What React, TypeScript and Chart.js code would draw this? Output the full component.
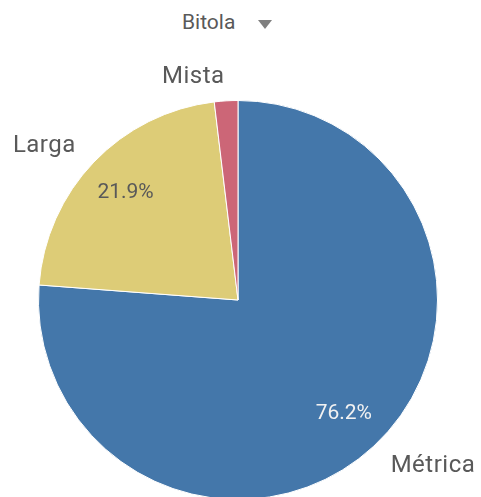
import React, { useEffect, useRef } from "react";
import { Chart, registerables } from "chart.js";

Chart.register(...registerables);

const categories = ["Métrica", "Larga", "Mista"];
const values = [76.2, 21.9, 1.9];
const percentLabels = ["76.2%", "21.9%", ""];
const colors = ["#4477aa", "#ddcc77", "#cc6677"];
const percentColors = ["#f2f2f2", "#595959", "#595959"];
const titleText = "Bitola";

const FONT = "Roboto, 'Open Sans', sans-serif";

const labelPlugin = {
  id: "pieLabels",
  afterDatasetsDraw(chart: any) {
    const ctx = chart.ctx;
    const meta = chart.getDatasetMeta(0);
    ctx.save();
    meta.data.forEach((arc: any, i: number) => {
      const { x, y, startAngle, endAngle, outerRadius } = arc.getProps(
        ["x", "y", "startAngle", "endAngle", "outerRadius"],
        true
      );
      const mid = (startAngle + endAngle) / 2;
      const cos = Math.cos(mid);
      const sin = Math.sin(mid);
      // outer category label
      const ro = outerRadius + 25;
      ctx.font = `24px ${FONT}`;
      (ctx as any).letterSpacing = "0.5px";
      ctx.fillStyle = "#595959";
      ctx.textBaseline = "middle";
      ctx.textAlign = cos >= 0 ? "left" : "right";
      ctx.fillText(categories[i], x + cos * ro, y + sin * ro + 1);
      // inner percentage
      if (percentLabels[i]) {
        const ri = outerRadius * 0.78;
        ctx.font = `21px ${FONT}`;
        (ctx as any).letterSpacing = "0px";
        ctx.textAlign = "center";
        ctx.fillStyle = percentColors[i];
        ctx.fillText(percentLabels[i], x + cos * ri, y + sin * ri);
      }
    });
    ctx.restore();
  },
};

export default function App() {
  const ref = useRef<HTMLCanvasElement>(null);
  useEffect(() => {
    if (!ref.current) return;
    const chart = new Chart(ref.current, {
      type: "pie",
      data: {
        labels: categories,
        datasets: [
          {
            data: values,
            backgroundColor: colors,
            borderColor: "#ffffff",
            borderWidth: 1,
          },
        ],
      },
      options: {
        animation: false,
        responsive: false,
        maintainAspectRatio: false,
        layout: { padding: { left: 38, right: 43, top: 100, bottom: 100 } },
        plugins: {
          legend: { display: false },
          tooltip: { enabled: false },
          title: { display: false },
        },
      },
      plugins: [labelPlugin],
    });
    return () => chart.destroy();
  }, []);

  return (
    <div
      style={{
        position: "fixed",
        left: 0,
        top: 0,
        width: 481,
        height: 497,
        overflow: "hidden",
        background: "#ffffff",
      }}
    >
      <div
        style={{
          position: "absolute",
          top: 9,
          left: 182,
          fontFamily: FONT,
          fontSize: 21,
          lineHeight: "26px",
          color: "#595959",
          whiteSpace: "nowrap",
        }}
      >
        {titleText}
      </div>
      <div
        style={{
          position: "absolute",
          left: 258,
          top: 20,
          width: 0,
          height: 0,
          borderLeft: "7px solid transparent",
          borderRight: "7px solid transparent",
          borderTop: "9px solid #7f7f7f",
        }}
      />
      <canvas
        ref={ref}
        width={481}
        height={600}
        style={{ position: "absolute", left: 0, top: 0, width: 481, height: 600 }}
      />
    </div>
  );
}
